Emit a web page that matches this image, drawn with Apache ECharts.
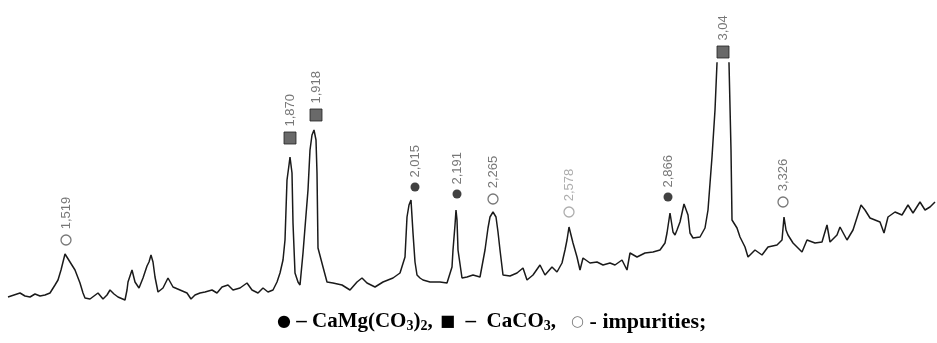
<!DOCTYPE html>
<html>
<head>
<meta charset="utf-8">
<script src="https://cdn.jsdelivr.net/npm/echarts@6/dist/echarts.min.js"></script>
<style>
  html, body { margin: 0; padding: 0; background: #fff; }
  #chart { width: 937px; height: 343px; }
</style>
</head>
<body>
<div id="chart"></div>
<script>
// scan position (arbitrary units along the pattern) and intensity (a.u.)
const scanPos = [
    8, 14, 20, 25, 30, 35, 40, 45, 50, 55, 58, 61, 63, 65, 67, 70, 75, 80, 83, 85,
    90, 94, 98, 103, 107, 110, 114, 118, 125, 127, 128, 132, 135, 139, 143, 147, 149, 151, 153, 155,
    158, 163, 168, 173, 180, 187, 191, 195, 200, 205, 212, 217, 222, 228, 233, 240, 247, 252, 258, 263,
    268, 273, 277, 280, 283, 285, 287, 289, 290, 292, 293, 295, 298, 300, 303, 306, 308, 310, 312, 314,
    316, 317, 318, 320, 323, 327, 333, 342, 350, 357, 362, 367, 375, 383, 393, 400, 405, 407, 409, 411,
    413, 415, 417, 420, 423, 430, 440, 447, 452, 453, 455, 456, 457, 458, 462, 467, 473, 480, 485, 488,
    490, 493, 496, 498, 500, 503, 510, 517, 523, 527, 533, 540, 545, 552, 557, 562, 565, 567, 569, 571,
    573, 577, 580, 583, 590, 597, 603, 610, 615, 622, 627, 630, 637, 645, 653, 660, 665, 667, 670, 673,
    675, 677, 680, 684, 686, 688, 690, 693, 700, 705, 708, 712, 715, 717, 723, 729, 731, 732, 737, 740,
    745, 748, 755, 762, 768, 777, 782, 784, 786, 788, 793, 802, 807, 815, 822, 827, 830, 837, 840, 847,
    853, 861, 865, 870, 875, 880, 884, 888, 895, 902, 908, 913, 920, 925, 930, 935
];
const intensity = [
    6, 8, 10, 7, 6, 9, 7, 8, 10, 18, 23, 33, 41, 49, 48, 41, 33, 20, 10, 5,
    4, 7, 10, 4, 8, 13, 9, 6, 3, 13, 21, 33, 21, 15, 25, 37, 41, 48, 41, 26,
    11, 15, 25, 16, 13, 10, 4, 8, 10, 11, 13, 10, 16, 18, 13, 15, 20, 13, 10, 15,
    11, 13, 21, 30, 43, 63, 123, 138, 146, 130, 80, 30, 21, 18, 50, 88, 113, 153, 168, 173,
    163, 130, 55, 53, 36, 21, 20, 18, 13, 21, 25, 20, 16, 21, 25, 30, 46, 86, 98, 103,
    70, 41, 28, 25, 23, 21, 21, 20, 36, 53, 78, 93, 83, 53, 25, 26, 28, 26, 53, 75,
    86, 91, 86, 71, 53, 28, 27, 30, 35, 23, 28, 38, 28, 36, 31, 40, 53, 63, 76, 68,
    60, 46, 33, 45, 40, 41, 38, 40, 38, 43, 33, 50, 46, 50, 51, 53, 60, 70, 90, 71,
    68, 73, 81, 99, 101, 88, 70, 65, 66, 75, 93, 146, 193, 240, 330, 240, 153, 83, 75, 66,
    56, 46, 53, 48, 56, 58, 63, 86, 73, 68, 60, 51, 63, 60, 61, 78, 61, 68, 76, 63,
    73, 98, 93, 85, 83, 81, 70, 86, 91, 88, 98, 90, 101, 93, 96, 101
];

// labelled reflections (d, Å) with the phase they belong to
const peakLabels = ['1,519', '1,870', '1,918', '2,015', '2,191', '2,265', '2,578', '2,866', '3,04', '3,326'];
const peakPos = [66, 290, 316, 415, 457, 493, 569, 668, 723, 783];
const peakMark = [63, 165, 188, 116, 109, 104, 91, 106, 251, 101];
const peakPhase = ['imp', 'cal', 'cal', 'dol', 'dol', 'imp', 'imp', 'dol', 'cal', 'imp'];

const phaseStyle = {
    dol: { symbol: 'circle', size: 9, itemStyle: { color: '#111' } },
    cal: { symbol: 'rect', size: 12, itemStyle: { color: '#444', borderColor: '#222', borderWidth: 1 } },
    imp: { symbol: 'circle', size: 10, itemStyle: { color: '#fff', borderColor: '#555', borderWidth: 1.3 } }
};

window.onload = () => {
    const chart = echarts.init(document.getElementById('chart'));

    const line = scanPos.map((x, i) => [x, intensity[i]]);
    const marks = peakLabels.map((txt, i) => {
        const st = phaseStyle[peakPhase[i]];
        const faint = txt === '2,578';
        return {
            value: [peakPos[i], peakMark[i]],
            name: txt,
            symbol: st.symbol,
            symbolSize: st.size,
            itemStyle: faint ? Object.assign({}, st.itemStyle, { borderColor: '#999' }) : st.itemStyle,
            label: { color: faint ? '#999' : '#555' }
        };
    });

    const legendFont = {
        fontFamily: 'Liberation Serif',
        fontWeight: 'bold',
        fontSize: 21,
        fill: '#000',
        rich: {
            dot: { fontSize: 16, fontFamily: 'DejaVu Sans', fill: '#000' },
            sq: { fontSize: 16, fontFamily: 'DejaVu Sans', fill: '#000' },
            circ: { fontSize: 15, fontFamily: 'DejaVu Sans', fill: '#777' },
            sub: { fontSize: 14, fontFamily: 'Liberation Serif', fontWeight: 'bold', padding: [10, 0, 0, 0] }
        }
    };

    chart.setOption({
        animation: false,
        grid: { left: 0, right: 0, top: 63, bottom: 40 },
        xAxis: { type: 'value', min: 0, max: 937, show: false },
        yAxis: { type: 'value', min: 0, max: 240, show: false },
        series: [
            {
                type: 'line',
                data: line,
                showSymbol: false,
                clip: true,
                lineStyle: { color: '#1a1a1a', width: 1.5 }
            },
            {
                type: 'scatter',
                data: marks,
                clip: false,
                label: {
                    show: true,
                    formatter: '{b}',
                    position: 'top',
                    distance: 5,
                    rotate: 90,
                    align: 'left',
                    verticalAlign: 'middle',
                    fontFamily: 'Liberation Sans Narrow, Liberation Sans, sans-serif',
                    fontSize: 13
                }
            }
        ],
        graphic: [
            {
                type: 'text', left: 277, top: 311,
                style: Object.assign({ text: '{dot|●} – CaMg(CO{sub|3}){sub|2},' }, legendFont)
            },
            {
                type: 'text', left: 440, top: 311,
                style: Object.assign({ text: '{sq|■}  –  CaCO{sub|3},' }, legendFont)
            },
            {
                type: 'text', left: 571, top: 311,
                style: Object.assign({ text: '{circ|○} - impurities;' }, legendFont, { fontSize: 22 })
            }
        ]
    });
};
</script>
</body>
</html>
